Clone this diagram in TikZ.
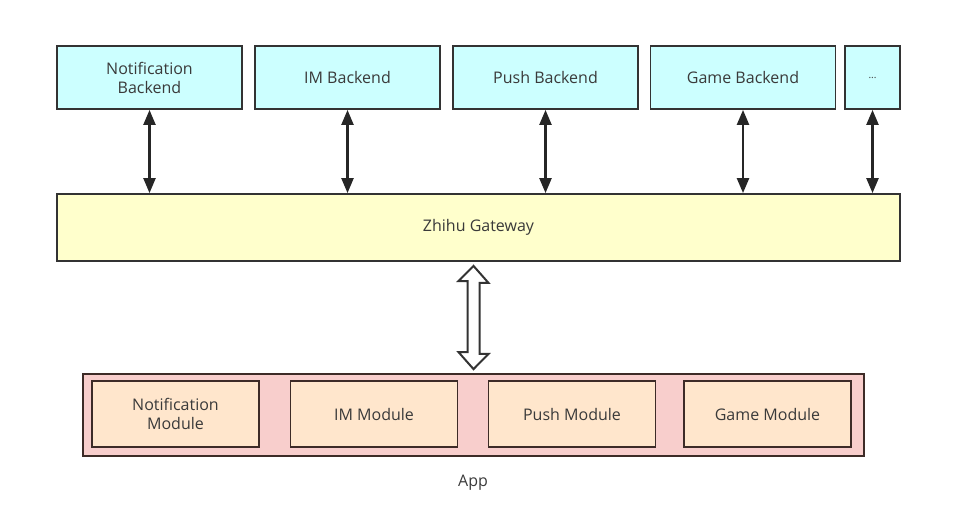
\documentclass[tikz,border=0pt]{standalone}
\usepackage{fontspec}
\setmainfont{Open Sans}
\usetikzlibrary{arrows.meta,positioning}

\definecolor{backendfill}{HTML}{CCFFFF}
\definecolor{gatewayfill}{HTML}{FFFFCC}
\definecolor{appfill}{HTML}{F8CECC}
\definecolor{modulefill}{HTML}{FFE6CC}
\definecolor{boxline}{HTML}{333333}
\definecolor{moduleline}{HTML}{3D2B27}
\definecolor{textgray}{HTML}{3A3A3A}

\begin{document}
\begin{tikzpicture}[x=1pt,y=-1pt,
	backend/.style={draw=boxline, line width=1.8pt, fill=backendfill, minimum width=185pt, minimum height=63pt, align=center, text=textgray, font=\fontsize{16}{19}\selectfont},
	gateway/.style={draw=boxline, line width=1.8pt, fill=gatewayfill, minimum width=843pt, minimum height=67pt, text=textgray, font=\fontsize{16}{19}\selectfont},
	appbox/.style={draw=moduleline, line width=1.8pt, fill=appfill, minimum width=781pt, minimum height=82pt},
	module/.style={draw=moduleline, line width=1.8pt, fill=modulefill, minimum width=167pt, minimum height=66pt, align=center, text=textgray, font=\fontsize{16}{19}\selectfont},
	link/.style={line width=2.3pt, draw=black!85, {Triangle[length=15pt,width=12pt]}-{Triangle[length=15pt,width=12pt]}},
	hollow/.style={line width=2pt, draw=boxline, fill=white, line join=miter}]
	\useasboundingbox (0,0) rectangle (976,523);

	% Backends along the top
	\node[backend] (notif) at (149.5,77.5) {Notification\\Backend};
	\node[backend] (im) at (347.5,77.5) {IM Backend};
	\node[backend] (push) at (545.5,77.5) {Push Backend};
	\node[backend] (game) at (743,77.5) {Game Backend};
	\node[backend, minimum width=55pt, font=\fontsize{10}{12}\selectfont] (more) at (872.5,77.5) {...};

	% Gateway
	\node[gateway] (gw) at (478.5,227.5) {Zhihu Gateway};

	% Backend <-> gateway links
	\foreach \b in {notif,im,push,game,more}
		\draw[link] (\b.south) -- (\b.south |- gw.north);

	% App with its modules
	\node[appbox] (app) at (473.5,415) {};
	\node[module] (notifmod) at (175.5,414) {Notification\\Module};
	\node[module] (immod) at (374,414) {IM Module};
	\node[module] (pushmod) at (572,414) {Push Module};
	\node[module] (gamemod) at (767.5,414) {Game Module};
	\node[text=textgray, font=\fontsize{16}{19}\selectfont] (applabel) at (473,483) {App};

	% Hollow double arrow between gateway and app
	\coordinate (lowtip) at ([yshift=4pt]app.north);
	\coordinate (uptip) at ([yshift=-4pt]lowtip |- gw.south);
	\draw[hollow] (uptip) -- ++(15,17) -- ++(-9,0) -- ++(0,71) -- ++(9,0) -- (lowtip)
		-- ++(-15,-17) -- ++(9,0) -- ++(0,-71) -- ++(-9,0) -- cycle;
\end{tikzpicture}
\end{document}
